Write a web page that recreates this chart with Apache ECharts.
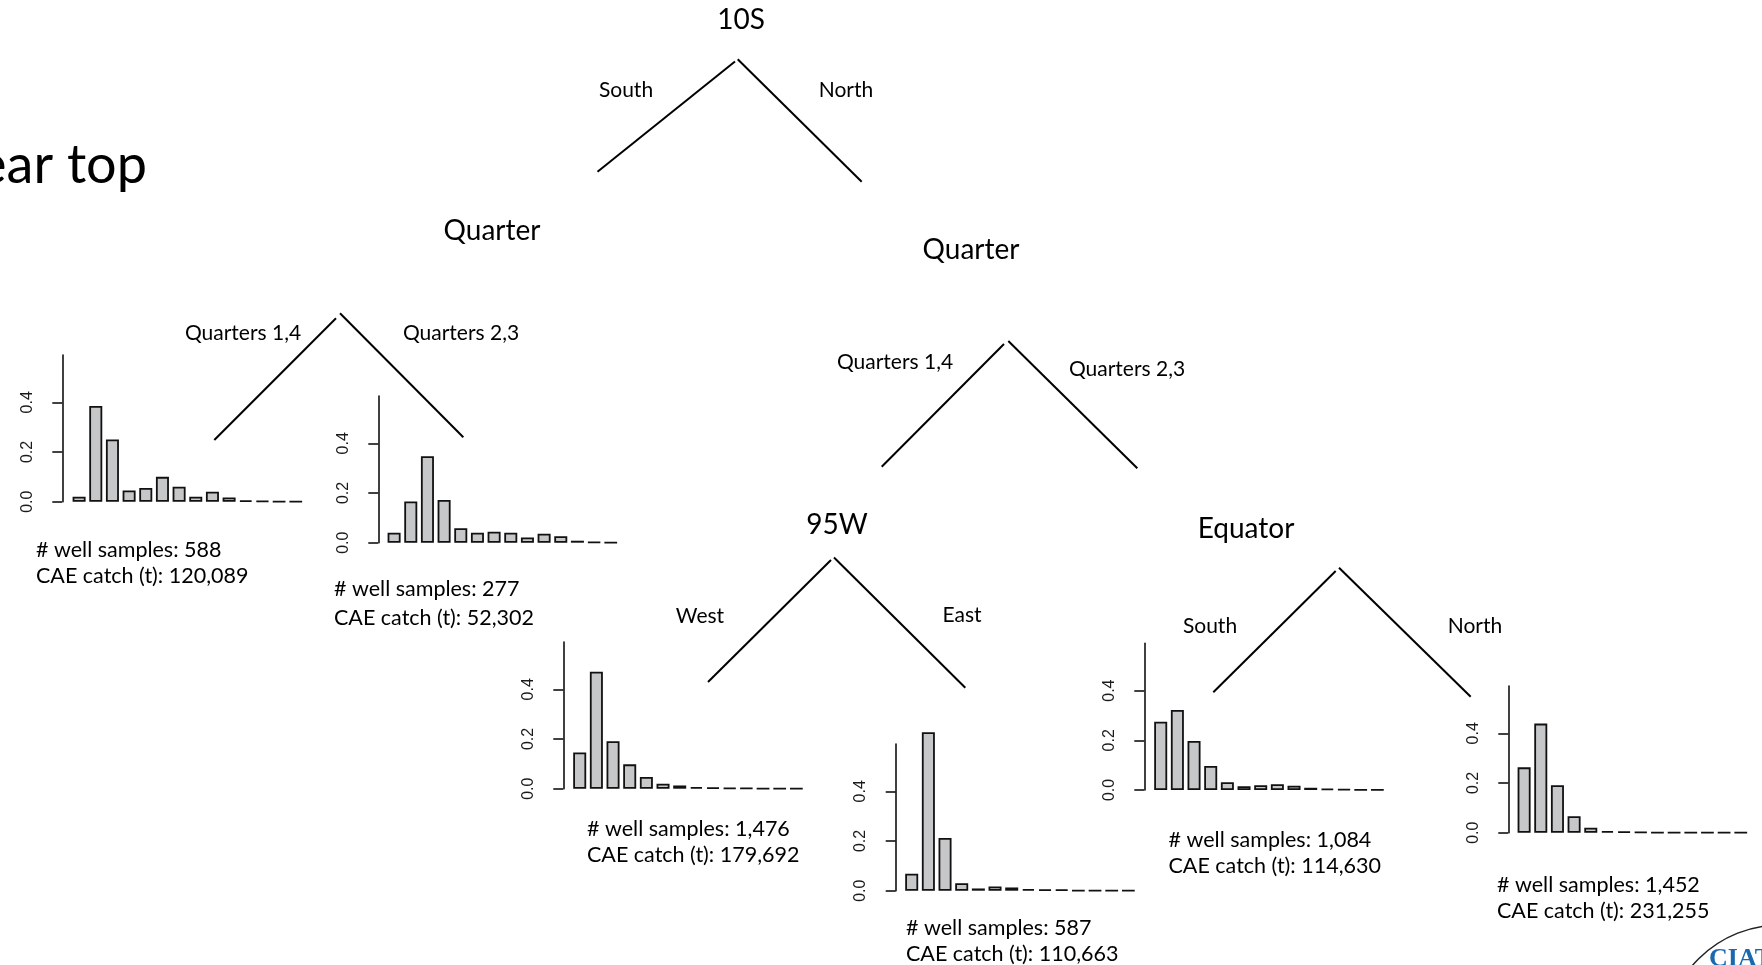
<!DOCTYPE html>
<html>
<head>
<meta charset="utf-8">
<script src="https://cdn.jsdelivr.net/npm/echarts@6/dist/echarts.min.js"></script>
<style>
  html, body { margin: 0; padding: 0; background: #ffffff; }
  #chart { width: 1762px; height: 965px; }
</style>
</head>
<body>
<div id="chart"></div>
<script>
// ---- data -------------------------------------------------------------
// Length-frequency bins (proportion of fish per size class), 14 classes
const sizeBins = ['1', '2', '3', '4', '5', '6', '7', '8', '9', '10', '11', '12', '13', '14'];
const yTicks = [0, 0.2, 0.4];

// Terminal nodes of the regression tree
const southQ14      = [0.020, 0.385, 0.250, 0.045, 0.055, 0.100, 0.060, 0.020, 0.040, 0.017, 0.005, 0.003, 0.001, 0.001];
const southQ23      = [0.040, 0.166, 0.348, 0.172, 0.058, 0.040, 0.044, 0.040, 0.021, 0.036, 0.026, 0.008, 0.002, 0.001];
const northQ14West  = [0.146, 0.471, 0.191, 0.098, 0.047, 0.020, 0.013, 0.007, 0.004, 0.003, 0.002, 0.001, 0.001, 0.001];
const northQ14East  = [0.068, 0.638, 0.212, 0.030, 0.009, 0.017, 0.013, 0.007, 0.004, 0.004, 0.001, 0.001, 0.001, 0.001];
const northQ23South = [0.275, 0.322, 0.197, 0.097, 0.031, 0.015, 0.019, 0.023, 0.017, 0.009, 0.005, 0.003, 0.001, 0.001];
const northQ23North = [0.263, 0.439, 0.191, 0.066, 0.020, 0.007, 0.004, 0.003, 0.001, 0.001, 0.001, 0.001, 0.001, 0.001];

const wellSamples = [588, 277, 1476, 587, 1084, 1452];
const caeCatch    = [120089, 52302, 179692, 110663, 114630, 231255];

// Split nodes and the labels on their two branches
const splitNodes   = ['10S', 'Quarter', 'Quarter', '95W', 'Equator'];
const leftBranch   = ['South', 'Quarters 1,4', 'Quarters 1,4', 'West', 'South'];
const rightBranch  = ['North', 'Quarters 2,3', 'Quarters 2,3', 'East', 'North'];

const slideTitle = 'ear top';

// ---- layout -----------------------------------------------------------
const leaves = [southQ14, southQ23, northQ14West, northQ14East, northQ23South, northQ23North];

// axis line x, zero baseline y, left edge of first bar, info text position
const panelLayout = [
  { axisX: 62.3,   zeroY: 501.7, barLeft: 71.7,   textX: 36,     textY: 550, lineGap: 26 },
  { axisX: 378.3,  zeroY: 542.7, barLeft: 386.7,  textX: 334,    textY: 589, lineGap: 29 },
  { axisX: 563.3,  zeroY: 788.7, barLeft: 572.3,  textX: 587,    textY: 829, lineGap: 26 },
  { axisX: 895.7,  zeroY: 890.7, barLeft: 904.3,  textX: 906,    textY: 928, lineGap: 26 },
  { axisX: 1144.3, zeroY: 790.0, barLeft: 1153.3, textX: 1168.5, textY: 840, lineGap: 26 },
  { axisX: 1508.3, zeroY: 832.7, barLeft: 1516.7, textX: 1497,   textY: 885, lineGap: 26 }
];

// node label centre, branch label centres, branch segments
const nodeLayout = [
  { label: [741, 20],   lLab: [626, 90],   rLab: [846, 90],
    lSeg: [735, 61.5, 597.5, 171.7],   rSeg: [737.7, 59.3, 861.7, 181.7] },
  { label: [492, 231],  lLab: [243, 333],  rLab: [461, 333],
    lSeg: [336, 318.3, 214.3, 440],    rSeg: [340, 313.3, 463.3, 437.3] },
  { label: [971, 250],  lLab: [895, 362],  rLab: [1127, 369],
    lSeg: [1004, 344, 881.7, 466.7],   rSeg: [1008.3, 341, 1137.3, 468.3] },
  { label: [837, 525],  lLab: [700, 616],  rLab: [962, 615],
    lSeg: [831, 560, 708, 682],        rSeg: [834, 557.5, 965.3, 687.7] },
  { label: [1246, 529], lLab: [1210, 626], rLab: [1475, 626],
    lSeg: [1335.7, 571, 1213.3, 692.3], rSeg: [1339, 567.7, 1470.7, 696.7] }
];

const BIN_PX = 50 / 3;        // width of one size class
const BAR_W = 13;
const Y_MAX = 0.59;
const PX_PER_UNIT = 248.5;
const INK = '#111111';
const UI_FONT = 'Lato, "Open Sans", sans-serif';
const AXIS_FONT = '"Liberation Sans", Arial, sans-serif';

const fmt = n => n.toLocaleString('en-US');

const grids = [], xAxes = [], yAxes = [], series = [];
leaves.forEach((vals, i) => {
  const p = panelLayout[i];
  const slotLeft = p.barLeft + 0.9 - (BIN_PX - BAR_W) / 2;
  const h = Y_MAX * PX_PER_UNIT;
  grids.push({
    left: slotLeft, top: p.zeroY - h, width: BIN_PX * sizeBins.length, height: h,
    outerBoundsMode: 'none', containLabel: false
  });
  xAxes.push({
    type: 'category', gridIndex: i, data: sizeBins, show: false
  });
  yAxes.push({
    type: 'value', gridIndex: i, min: 0, max: Y_MAX, interval: 0.2,
    offset: slotLeft - p.axisX,
    axisLine: { show: true, lineStyle: { color: INK, width: 1.6 } },
    axisTick: { show: true, length: 10, customValues: yTicks, lineStyle: { color: INK, width: 1.6 } },
    axisLabel: {
      show: true, rotate: 90, margin: 27, customValues: yTicks,
      fontFamily: AXIS_FONT, fontSize: 16, color: '#1a1a1a',
      formatter: v => v.toFixed(1)
    },
    splitLine: { show: false }
  });
  series.push({
    type: 'bar', xAxisIndex: i, yAxisIndex: i, data: vals,
    barWidth: BAR_W, clip: false, silent: true,
    itemStyle: { color: '#c6c7c9', borderColor: INK, borderWidth: 1.8 }
  });
});

const graphics = [];
// slide heading fragment
graphics.push({
  type: 'text', x: 147, y: 166,
  style: { text: slideTitle, font: '54px ' + UI_FONT, fill: '#000', textAlign: 'right', textVerticalAlign: 'middle' }
});
// tree
nodeLayout.forEach((n, i) => {
  [n.lSeg, n.rSeg].forEach(s => graphics.push({
    type: 'line', shape: { x1: s[0], y1: s[1], x2: s[2], y2: s[3] },
    style: { stroke: '#000', lineWidth: 2 }
  }));
  graphics.push({
    type: 'text', x: n.label[0], y: n.label[1],
    style: { text: splitNodes[i], font: '28px ' + UI_FONT, fill: '#000', textAlign: 'center', textVerticalAlign: 'middle' }
  });
  graphics.push({
    type: 'text', x: n.lLab[0], y: n.lLab[1],
    style: { text: leftBranch[i], font: '21px ' + UI_FONT, fill: '#000', textAlign: 'center', textVerticalAlign: 'middle' }
  });
  graphics.push({
    type: 'text', x: n.rLab[0], y: n.rLab[1],
    style: { text: rightBranch[i], font: '21px ' + UI_FONT, fill: '#000', textAlign: 'center', textVerticalAlign: 'middle' }
  });
});
// leaf summaries
panelLayout.forEach((p, i) => {
  graphics.push({
    type: 'text', x: p.textX, y: p.textY,
    style: { text: '# well samples: ' + fmt(wellSamples[i]), font: '21.5px ' + UI_FONT, fill: '#000', textAlign: 'left', textVerticalAlign: 'middle' }
  });
  graphics.push({
    type: 'text', x: p.textX, y: p.textY + p.lineGap,
    style: { text: 'CAE catch (t): ' + fmt(caeCatch[i]), font: '21.5px ' + UI_FONT, fill: '#000', textAlign: 'left', textVerticalAlign: 'middle' }
  });
});
// corner logo
graphics.push({
  type: 'circle', shape: { cx: 1780, cy: 1040, r: 115 },
  style: { fill: 'none', stroke: '#222', lineWidth: 1.5 }
});
graphics.push({
  type: 'text', x: 1709, y: 946,
  style: { text: 'CIAT', font: 'bold 26px "Liberation Serif", "DejaVu Serif", serif', fill: '#1a68b0', textAlign: 'left', textVerticalAlign: 'top' }
});

const chart = echarts.init(document.getElementById('chart'), null, { renderer: 'canvas', width: 1762, height: 965 });
chart.setOption({
  animation: false,
  backgroundColor: '#ffffff',
  grid: grids,
  xAxis: xAxes,
  yAxis: yAxes,
  series: series,
  graphic: { elements: graphics }
});
</script>
</body>
</html>
